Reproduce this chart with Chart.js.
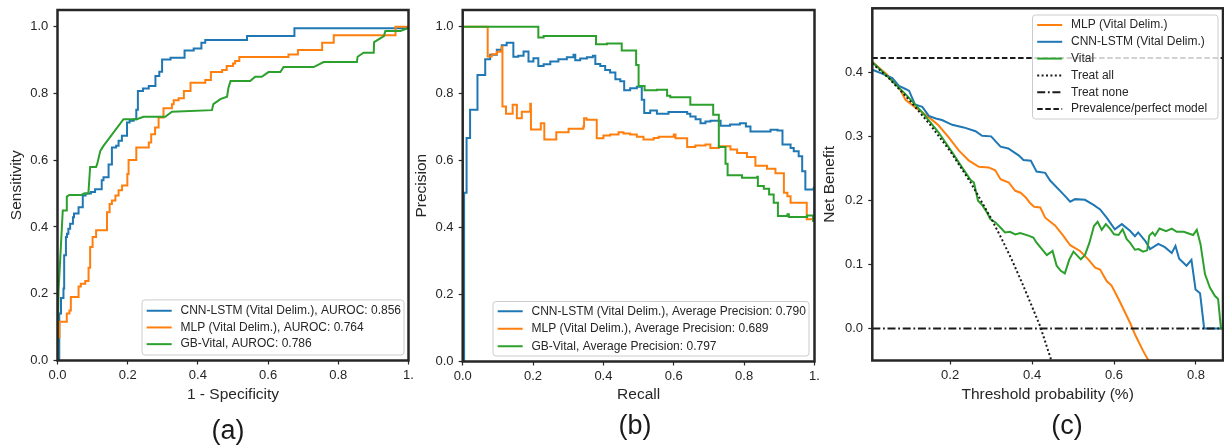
<!DOCTYPE html>
<html><head><meta charset="utf-8">
<script src="https://cdn.jsdelivr.net/npm/chart.js@4/dist/chart.umd.min.js"></script>
<style>
html,body{margin:0;padding:0;background:#fff;}
body{width:1224px;height:445px;position:relative;overflow:hidden;font-family:"Liberation Sans",Arial,sans-serif;}
.panel{position:absolute;top:0;height:445px;}
.lbl{position:absolute;font-size:27px;color:#1a1a1a;transform:translate(-50%,-50%);white-space:nowrap;line-height:1;}
</style></head><body>
<div class="panel" style="left:0;width:440px"><canvas id="cA"></canvas></div>
<div class="panel" style="left:412px;width:440px"><canvas id="cB"></canvas></div>
<div class="panel" style="left:818px;width:406px"><canvas id="cC"></canvas></div>
<div class="lbl" style="left:228px;top:430px">(a)</div>
<div class="lbl" style="left:635px;top:425px">(b)</div>
<div class="lbl" style="left:1067px;top:425px">(c)</div>
<script>
// ---------- data ----------
const rocLabels = ['CNN-LSTM (Vital Delim.), AUROC: 0.856', 'MLP (Vital Delim.), AUROC: 0.764', 'GB-Vital, AUROC: 0.786'];
const prLabels = ['CNN-LSTM (Vital Delim.), Average Precision: 0.790', 'MLP (Vital Delim.), Average Precision: 0.689', 'GB-Vital, Average Precision: 0.797'];
const dcaLabels = ['MLP (Vital Delim.)', 'CNN-LSTM (Vital Delim.)', 'Vital', 'Treat all', 'Treat none', 'Prevalence/perfect model'];

// ROC: [1 - specificity, sensitivity]  (step corners)
const rocCnn = [[0,0],[0.005,0.141],[0.010,0.187],[0.017,0.216],[0.019,0.315],[0.024,0.37],[0.027,0.38],[0.031,0.395],[0.036,0.41],[0.044,0.429],[0.047,0.44],[0.06,0.459],[0.072,0.494],[0.080,0.50],[0.095,0.505],[0.107,0.513],[0.126,0.54],[0.131,0.549],[0.1455,0.587],[0.155,0.638],[0.167,0.643],[0.174,0.658],[0.1835,0.673],[0.198,0.713],[0.2055,0.718],[0.217,0.723],[0.2245,0.751],[0.229,0.807],[0.2435,0.815],[0.26,0.822],[0.279,0.852],[0.29,0.865],[0.298,0.902],[0.322,0.907],[0.362,0.929],[0.388,0.935],[0.41,0.952],[0.421,0.96],[0.54,0.972],[0.675,0.995],[1.0,1.0]];
const rocMlp = [[0,0],[0,0.07],[0.0057,0.116],[0.0265,0.141],[0.034,0.15],[0.038,0.19],[0.06,0.222],[0.0665,0.23],[0.079,0.238],[0.0885,0.278],[0.093,0.34],[0.1,0.37],[0.11,0.39],[0.141,0.444],[0.1485,0.469],[0.155,0.479],[0.165,0.494],[0.174,0.51],[0.184,0.524],[0.199,0.559],[0.2025,0.601],[0.2245,0.638],[0.26,0.653],[0.267,0.678],[0.278,0.698],[0.288,0.728],[0.302,0.756],[0.326,0.768],[0.331,0.78],[0.345,0.786],[0.36,0.807],[0.379,0.832],[0.421,0.84],[0.437,0.864],[0.469,0.87],[0.482,0.882],[0.5,0.89],[0.506,0.897],[0.518,0.909],[0.658,0.917],[0.685,0.93],[0.754,0.952],[0.787,0.974],[0.963,1.0],[1.0,1.0]];
const rocGb = [[0,0],[0.003,0.21],[0.015,0.449],[0.0265,0.449],[0.0265,0.491],[0.034,0.496],[0.069,0.496],[0.075,0.50],[0.088,0.50],[0.093,0.58],[0.11,0.58],[0.113,0.588],[0.122,0.628],[0.131,0.643],[0.188,0.723],[0.226,0.723],[0.245,0.73],[0.307,0.73],[0.326,0.745],[0.44,0.75],[0.444,0.768],[0.464,0.783],[0.483,0.79],[0.487,0.817],[0.493,0.837],[0.549,0.837],[0.563,0.85],[0.582,0.85],[0.601,0.864],[0.635,0.864],[0.644,0.879],[0.73,0.879],[0.758,0.894],[0.853,0.894],[0.855,0.91],[0.872,0.922],[0.901,0.922],[0.902,0.954],[0.93,0.972],[0.934,0.987],[0.977,0.987],[0.996,0.995],[1.0,1.0]];

// PR: [recall, precision] (step corners)
const prCnn = [[0.004,0],[0.004,0.504],[0.011,0.668],[0.021,0.752],[0.042,0.856],[0.064,0.903],[0.078,0.916],[0.097,0.931],[0.111,0.945],[0.125,0.952],[0.144,0.91],[0.158,0.913],[0.173,0.926],[0.187,0.896],[0.201,0.906],[0.215,0.883],[0.23,0.888],[0.249,0.896],[0.272,0.903],[0.296,0.909],[0.315,0.916],[0.32,0.9],[0.334,0.905],[0.353,0.909],[0.37,0.913],[0.377,0.889],[0.391,0.883],[0.405,0.871],[0.419,0.863],[0.434,0.843],[0.448,0.837],[0.459,0.81],[0.476,0.816],[0.495,0.821],[0.509,0.782],[0.516,0.742],[0.533,0.75],[0.552,0.74],[0.585,0.745],[0.638,0.74],[0.647,0.732],[0.662,0.724],[0.676,0.712],[0.69,0.717],[0.704,0.719],[0.733,0.704],[0.76,0.708],[0.788,0.712],[0.805,0.702],[0.818,0.687],[0.875,0.692],[0.895,0.69],[0.909,0.648],[0.932,0.638],[0.941,0.628],[0.955,0.613],[0.965,0.568],[0.974,0.514],[0.998,0.519],[1.0,0.435]];
const prMlp = [[0,1.0],[0.071,0.911],[0.0825,0.918],[0.097,0.925],[0.111,0.94],[0.113,0.762],[0.123,0.74],[0.142,0.767],[0.154,0.727],[0.168,0.746],[0.192,0.77],[0.194,0.693],[0.222,0.712],[0.232,0.663],[0.266,0.685],[0.301,0.695],[0.343,0.702],[0.345,0.727],[0.352,0.722],[0.381,0.667],[0.4,0.675],[0.419,0.678],[0.443,0.685],[0.457,0.681],[0.476,0.678],[0.495,0.671],[0.514,0.663],[0.543,0.668],[0.557,0.671],[0.6,0.678],[0.605,0.667],[0.638,0.641],[0.661,0.645],[0.69,0.648],[0.704,0.638],[0.728,0.643],[0.761,0.633],[0.78,0.623],[0.808,0.611],[0.832,0.585],[0.865,0.576],[0.889,0.562],[0.913,0.504],[0.923,0.494],[0.932,0.474],[0.978,0.425],[1.0,0.425]];
const prGb = [[0,1.0],[0.215,0.968],[0.23,0.972],[0.379,0.948],[0.41,0.95],[0.452,0.929],[0.493,0.886],[0.5,0.823],[0.517,0.81],[0.552,0.812],[0.581,0.794],[0.59,0.789],[0.647,0.767],[0.712,0.737],[0.728,0.641],[0.747,0.591],[0.753,0.556],[0.794,0.549],[0.837,0.552],[0.839,0.524],[0.856,0.516],[0.871,0.499],[0.884,0.474],[0.896,0.435],[0.923,0.44],[0.927,0.432],[0.979,0.436],[0.996,0.42],[1.0,0.42]];

// Decision curve: [threshold probability, net benefit]
const dcaMlp = [[0.01,0.416],[0.045,0.397],[0.075,0.377],[0.091,0.357],[0.115,0.345],[0.148,0.33],[0.172,0.317],[0.197,0.298],[0.221,0.278],[0.246,0.262],[0.27,0.2525],[0.294,0.2515],[0.31,0.247],[0.323,0.233],[0.343,0.228],[0.359,0.215],[0.372,0.212],[0.384,0.205],[0.395,0.196],[0.405,0.19],[0.42,0.189],[0.432,0.173],[0.456,0.161],[0.476,0.145],[0.493,0.13],[0.517,0.121],[0.537,0.108],[0.554,0.095],[0.566,0.092],[0.582,0.074],[0.594,0.067],[0.611,0.046],[0.627,0.025],[0.639,0.009],[0.651,-0.009],[0.671,-0.035],[0.686,-0.052]];
const dcaCnn = [[0.01,0.404],[0.034,0.398],[0.059,0.391],[0.075,0.379],[0.091,0.374],[0.1,0.371],[0.114,0.35],[0.132,0.346],[0.148,0.332],[0.165,0.328],[0.18,0.3255],[0.205,0.318],[0.233,0.314],[0.262,0.308],[0.278,0.301],[0.3,0.3],[0.323,0.284],[0.342,0.281],[0.368,0.27],[0.379,0.263],[0.397,0.262],[0.411,0.245],[0.432,0.243],[0.444,0.231],[0.472,0.2125],[0.48,0.207],[0.493,0.198],[0.505,0.202],[0.529,0.201],[0.55,0.193],[0.566,0.186],[0.582,0.173],[0.602,0.155],[0.619,0.163],[0.639,0.1525],[0.651,0.144],[0.659,0.15],[0.676,0.137],[0.688,0.124],[0.708,0.132],[0.724,0.127],[0.741,0.118],[0.75,0.129],[0.759,0.109],[0.777,0.098],[0.789,0.107],[0.799,0.061],[0.81,0.055],[0.82,0.0],[0.867,0.0]];
const dcaVital = [[0.01,0.416],[0.05,0.392],[0.091,0.366],[0.132,0.3375],[0.172,0.306],[0.205,0.275],[0.229,0.2516],[0.25,0.2317],[0.258,0.228],[0.268,0.1994],[0.278,0.193],[0.29,0.181],[0.298,0.171],[0.31,0.166],[0.322,0.158],[0.334,0.15],[0.346,0.151],[0.359,0.147],[0.371,0.149],[0.391,0.145],[0.403,0.142],[0.411,0.134],[0.436,0.1145],[0.45,0.121],[0.46,0.098],[0.47,0.09],[0.48,0.086],[0.491,0.108],[0.501,0.12],[0.519,0.108],[0.529,0.1145],[0.54,0.134],[0.551,0.16],[0.56,0.1665],[0.57,0.154],[0.58,0.163],[0.59,0.156],[0.6,0.147],[0.611,0.146],[0.621,0.155],[0.631,0.1395],[0.639,0.134],[0.651,0.123],[0.66,0.124],[0.671,0.12],[0.681,0.122],[0.686,0.145],[0.694,0.15],[0.70,0.145],[0.711,0.156],[0.727,0.152],[0.741,0.156],[0.753,0.151],[0.77,0.151],[0.793,0.146],[0.802,0.154],[0.811,0.132],[0.822,0.085],[0.834,0.064],[0.846,0.051],[0.854,0.046],[0.861,0.0],[0.867,0.0]];
const dcaTreatAll = [[0.01,0.414],[0.05,0.391],[0.1,0.357],[0.15,0.319],[0.2,0.277],[0.25,0.228],[0.3,0.172],[0.325,0.141],[0.35,0.108],[0.375,0.072],[0.4,0.034],[0.42,0.003],[0.447,-0.05]];
const dcaTreatNone = [[0.01,0],[0.867,0]];
const dcaPrevalence = [[0.01,0.4224],[0.867,0.4224]];

// tick values
const unitTicks = [0, 0.2, 0.4, 0.6, 0.8, 1.0];
const dcaXTicks = [0.2, 0.4, 0.6, 0.8];
const dcaYTicks = [0, 0.1, 0.2, 0.3, 0.4];

// ---------- styling / helpers ----------
const FONT = '"Liberation Sans", Arial, sans-serif';
const INK = '#262626';
const BLUE = '#1f77b4', ORANGE = '#ff7f0e', GREEN = '#2ca02c', BLACK = '#1a1a1a';
Chart.defaults.font.family = FONT;

const spines = {
  id: 'spines',
  afterDatasetsDraw(chart) {
    const {ctx, chartArea: a} = chart;
    ctx.save();
    ctx.strokeStyle = INK; ctx.lineWidth = 2.5;
    ctx.strokeRect(a.left, a.top, a.right - a.left, a.bottom - a.top);
    ctx.restore();
  }
};

const boxLegend = {
  id: 'boxLegend',
  afterDatasetsDraw(chart, args, o) {
    const {ctx, chartArea: a} = chart;
    const ds = chart.data.datasets;
    const w = o.width, h = o.padV * 2 + ds.length * o.rowH;
    const x0 = a.right - o.right - w;
    const y0 = o.anchor === 'top' ? a.top + o.offset : a.bottom - o.offset - h;
    ctx.save();
    ctx.beginPath();
    if (ctx.roundRect) ctx.roundRect(x0, y0, w, h, 3); else ctx.rect(x0, y0, w, h);
    ctx.fillStyle = 'rgba(255,255,255,0.8)'; ctx.fill();
    ctx.strokeStyle = '#cccccc'; ctx.lineWidth = 1; ctx.stroke();
    ds.forEach((d, i) => {
      const cy = y0 + o.padV + o.rowH * (i + 0.5);
      ctx.beginPath();
      ctx.setLineDash(d.borderDash || []);
      ctx.lineCap = d.borderCapStyle || 'butt';
      ctx.strokeStyle = d.borderColor; ctx.lineWidth = d.borderWidth || 2;
      ctx.moveTo(x0 + 4.7, cy); ctx.lineTo(x0 + 29.7, cy); ctx.stroke();
      ctx.setLineDash([]);
      ctx.fillStyle = INK; ctx.font = '12px ' + FONT;
      ctx.textBaseline = 'middle'; ctx.textAlign = 'left';
      ctx.fillText(d.label, x0 + 38.5, cy);
    });
    ctx.restore();
  }
};

function axis(isX, a) {
  return {
    type: 'linear', position: isX ? 'bottom' : 'left', min: a.min, max: a.max,
    afterBuildTicks: s => { s.ticks = a.ticks.map(v => ({value: v})); },
    afterFit: s => {
      if (isX) s.height = a.size; else s.width = a.size;
      s.paddingLeft = 0; s.paddingRight = 0; s.paddingTop = 0; s.paddingBottom = 0;
    },
    grid: {display: true, drawOnChartArea: false, drawTicks: true, tickLength: 4, tickWidth: 1.2, tickColor: INK},
    border: {display: false},
    ticks: {color: INK, font: {family: FONT, size: 13}, padding: isX ? 3.4 : 5.2,
            maxRotation: 0, autoSkip: false, callback: a.fmt},
    title: {display: true, text: a.title, color: INK, font: {family: FONT, size: 15.5},
            padding: isX ? {top: 0, bottom: a.titlePad} : {top: a.titlePad, bottom: 0}}
  };
}

function series(label, pairs, color, extra, idx, n) {
  return Object.assign({
    label, data: pairs.map(([x, y]) => ({x, y})),
    borderColor: color, backgroundColor: color, borderWidth: 2,
    pointRadius: 0, pointHoverRadius: 0, fill: false, tension: 0, clip: 0, order: n - idx
  }, extra || {});
}

const fmtUnit = v => (v === 1 ? '1.' : v.toFixed(1));
const fmt1 = v => v.toFixed(1);

function panel(id, o) {
  return new Chart(document.getElementById(id), {
    type: 'line',
    data: {datasets: o.datasets},
    options: {
      responsive: true, maintainAspectRatio: false, animation: false, events: [],
      layout: {padding: o.padding},
      plugins: {legend: {display: false}, tooltip: {enabled: false}, boxLegend: o.legend},
      scales: {x: axis(true, o.x), y: axis(false, o.y)}
    },
    plugins: [spines, boxLegend]
  });
}

// ---------- (a) ROC ----------
panel('cA', {
  padding: {left: 0, right: 31.5, top: 10, bottom: 36.5},
  datasets: [
    series(rocLabels[0], rocCnn, BLUE, {stepped: 'before'}, 0, 3),
    series(rocLabels[1], rocMlp, ORANGE, {stepped: 'before'}, 1, 3),
    series(rocLabels[2], rocGb, GREEN, {}, 2, 3)
  ],
  x: {min: 0, max: 1, ticks: unitTicks, title: '1 - Specificity', fmt: fmtUnit, size: 48, titlePad: 4.2},
  y: {min: 0, max: 1.05, ticks: unitTicks, title: 'Sensitivity', fmt: fmt1, size: 57.5, titlePad: 7.7},
  legend: {width: 262, right: 4.5, anchor: 'bottom', offset: 5.5, rowH: 16.7, padV: 2.5}
});

// ---------- (b) Precision-Recall ----------
panel('cB', {
  padding: {left: 0, right: 37.5, top: 10, bottom: 35.5},
  datasets: [
    series(prLabels[0], prCnn, BLUE, {stepped: 'before'}, 0, 3),
    series(prLabels[1], prMlp, ORANGE, {stepped: 'before'}, 1, 3),
    series(prLabels[2], prGb, GREEN, {stepped: 'before'}, 2, 3)
  ],
  x: {min: 0, max: 1, ticks: unitTicks, title: 'Recall', fmt: fmtUnit, size: 48, titlePad: 5.2},
  y: {min: 0, max: 1.05, ticks: unitTicks, title: 'Precision', fmt: fmt1, size: 50.7, titlePad: 0.7},
  legend: {width: 316, right: 5.5, anchor: 'bottom', offset: 5.5, rowH: 17.5, padV: 1}
});

// ---------- (c) Decision curve ----------
panel('cC', {
  padding: {left: 0, right: 1, top: 8.3, bottom: 36.5},
  datasets: [
    series(dcaLabels[0], dcaMlp, ORANGE, {}, 0, 6),
    series(dcaLabels[1], dcaCnn, BLUE, {}, 1, 6),
    series(dcaLabels[2], dcaVital, GREEN, {}, 2, 6),
    series(dcaLabels[3], dcaTreatAll, BLACK, {borderDash: [2, 2.4]}, 3, 6),
    series(dcaLabels[4], dcaTreatNone, BLACK, {borderDash: [8, 2.7, 1.8, 2.7]}, 4, 6),
    series(dcaLabels[5], dcaPrevalence, BLACK, {borderDash: [5.5, 2.6]}, 5, 6)
  ],
  x: {min: 0.01, max: 0.866, ticks: dcaXTicks, title: 'Threshold probability (%)', fmt: fmt1, size: 48, titlePad: 4.2},
  y: {min: -0.05, max: 0.5, ticks: dcaYTicks, title: 'Net Benefit', fmt: fmt1, size: 54.3, titlePad: 2.7},
  legend: {width: 185.5, right: 5, anchor: 'top', offset: 6.7, rowH: 16.8, padV: 1.6}
});
</script>
</body></html>
